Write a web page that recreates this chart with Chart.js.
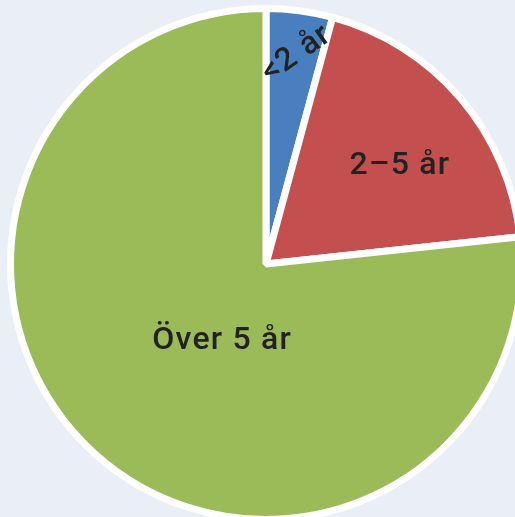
<!DOCTYPE html>
<html>
<head>
<meta charset="utf-8">
<script src="https://cdn.jsdelivr.net/npm/chart.js@4.4.0/dist/chart.umd.min.js"></script>
<style>
  html, body { margin: 0; padding: 0; background: #eaeef7; overflow: hidden; width: 515px; height: 517px; }
  #wrap { position: absolute; left: 0; top: 0; width: 532px; height: 528px; }
</style>
</head>
<body>
<div id="wrap"><canvas id="pieChart" width="532" height="528"></canvas></div>
<script>
// Andel per grupp (procent)
const categories = ['<2 år', '2–5 år', 'Över 5 år'];
const shares = [4.2, 19.1, 76.7];
const colors = ['#4a7fbf', '#c44f4f', '#9bbb59'];

// label placement: fraction of radius, angle nudge and rotation in degrees
const labelRadius = [0.842, 0.657, 0.337];
const labelAngleNudge = [0.7, 3.4, -11.3];
const labelRotation = [-35, 0, 0];

const labelPlugin = {
  id: 'sliceLabels',
  afterDatasetsDraw(chart) {
    const ctx = chart.ctx;
    const meta = chart.getDatasetMeta(0);
    meta.data.forEach((arc, i) => {
      const { x, y, startAngle, endAngle, outerRadius } = arc.getProps(['x', 'y', 'startAngle', 'endAngle', 'outerRadius'], true);
      const mid = (startAngle + endAngle) / 2 + labelAngleNudge[i] * Math.PI / 180;
      const r = outerRadius * labelRadius[i];
      const px = x + Math.cos(mid) * r;
      const py = y + Math.sin(mid) * r + 3;
      ctx.save();
      ctx.translate(px, py);
      ctx.rotate(labelRotation[i] * Math.PI / 180);
      ctx.font = '500 32px Roboto, "DejaVu Sans"';
      ctx.letterSpacing = '1.2px';
      ctx.fillStyle = '#222222';
      ctx.textAlign = 'center';
      ctx.textBaseline = 'middle';
      ctx.fillText(categories[i], 0, 0);
      ctx.restore();
    });
  }
};

const ctx = document.getElementById('pieChart').getContext('2d');
new Chart(ctx, {
  type: 'pie',
  data: {
    labels: categories,
    datasets: [{
      data: shares,
      backgroundColor: colors,
      borderColor: '#ffffff',
      borderWidth: 7,
    }],
  },
  options: {
    responsive: false,
    animation: false,
    radius: 255.5,
    layout: { padding: 0 },
    plugins: {
      legend: { display: false },
      tooltip: { enabled: false },
    },
  },
  plugins: [labelPlugin],
});
</script>
</body>
</html>
